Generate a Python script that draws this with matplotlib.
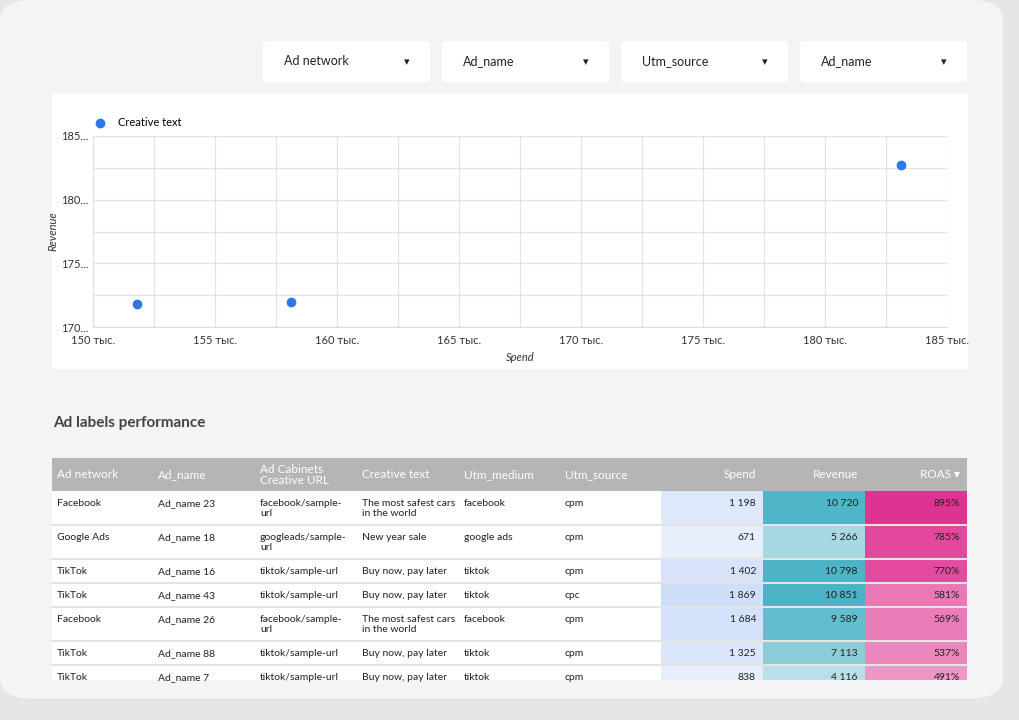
import matplotlib
matplotlib.use("Agg")
import matplotlib.pyplot as plt
from matplotlib.patches import FancyBboxPatch, Rectangle
from matplotlib.ticker import FuncFormatter, MultipleLocator

plt.rcParams['font.family'] = ['Lato', 'DejaVu Sans']

# scatter data (Spend in thousands, Revenue in thousands)
spend_k = [151.8, 158.1, 183.1]
revenue_k = [171.8, 172.0, 182.7]

filters = ["Ad network", "Ad_name", "Utm_source", "Ad_name"]

columns = ["Ad network", "Ad_name", "Ad Cabinets\nCreative URL", "Creative text",
           "Utm_medium", "Utm_source", "Spend", "Revenue", "ROAS ▾"]
networks = ["Facebook", "Google Ads", "TikTok", "TikTok", "Facebook", "TikTok", "TikTok"]
ad_names = ["Ad_name 23", "Ad_name 18", "Ad_name 16", "Ad_name 43", "Ad_name 26", "Ad_name 88", "Ad_name 7"]
urls = ["facebook/sample-\nurl", "googleads/sample-\nurl", "tiktok/sample-url", "tiktok/sample-url",
        "facebook/sample-\nurl", "tiktok/sample-url", "tiktok/sample-url"]
creative = ["The most safest cars\nin the world", "New year sale", "Buy now, pay later",
            "Buy now, pay later", "The most safest cars\nin the world", "Buy now, pay later",
            "Buy now, pay later"]
mediums = ["facebook", "google ads", "tiktok", "tiktok", "facebook", "tiktok", "tiktok"]
sources = ["cpm", "cpm", "cpm", "cpc", "cpm", "cpm", "cpm"]
spend = ["1 198", "671", "1 402", "1 869", "1 684", "1 325", "838"]
revenue = ["10 720", "5 266", "10 798", "10 851", "9 589", "7 113", "4 116"]
roas = ["895%", "785%", "770%", "581%", "569%", "537%", "491%"]

spend_col = ["#dde8fb", "#e8effc", "#d7e3fa", "#cedffa", "#d3e1fa", "#dde7fb", "#e6edfc"]
rev_col = ["#4fb5c8", "#a8d8e2", "#4db4c7", "#4ab3c6", "#62bdce", "#8dcdd9", "#b9e0e8"]
roas_col = ["#de3390", "#e3489c", "#e44b9e", "#e978b7", "#ea7cb9", "#ec87be", "#ee96c6"]

W, H = 1020, 720
fig = plt.figure(figsize=(W / 100, H / 100), dpi=100)
fig.patch.set_facecolor("#e6e6e9")

def px(x, y, w, h):
    # pixel box (top-left origin) -> figure coords
    return x / W, 1 - (y + h) / H, w / W, h / H

# background card
card = FancyBboxPatch((0, 0.03), 1003 / W, 0.97, boxstyle="round,pad=0,rounding_size=0.03",
                      transform=fig.transFigure, facecolor="#f4f4f6", edgecolor="none")
fig.patches.append(card)

# filter dropdowns
for i, name in enumerate(filters):
    x0 = 263 + i * 179
    l, b, w, h = px(x0, 41, 167, 41)
    fig.patches.append(FancyBboxPatch((l, b), w, h, boxstyle="round,pad=0,rounding_size=0.004",
                                      transform=fig.transFigure, facecolor="white", edgecolor="none"))
    fig.text((x0 + 21) / W, 1 - 65 / H, name, fontsize=9, color="#222222", va="baseline")
    fig.text((x0 + 144) / W, 1 - 65 / H, "▾", fontsize=8, color="#222222", va="baseline", ha="center",
             family="DejaVu Sans")

# chart panel
l, b, w, h = px(52, 94, 916, 275)
fig.patches.append(Rectangle((l, b), w, h, transform=fig.transFigure, facecolor="white", edgecolor="none"))

ax = fig.add_axes(px(93, 136, 854, 191))
ax.set_zorder(5)
ax.patch.set_alpha(0)
ax.scatter(spend_k, revenue_k, s=36, color="#2f76e5", zorder=3, label="Creative text")
ax.set_xlim(150, 185)
ax.set_ylim(170, 185)
ax.xaxis.set_major_locator(MultipleLocator(5))
ax.xaxis.set_minor_locator(MultipleLocator(2.5))
ax.yaxis.set_major_locator(MultipleLocator(5))
ax.yaxis.set_minor_locator(MultipleLocator(2.5))
ax.xaxis.set_major_formatter(FuncFormatter(lambda v, p: f"{v:.0f} тыс."))
ax.yaxis.set_major_formatter(FuncFormatter(lambda v, p: f"{v:.0f}..."))
ax.grid(True, which="both", color="#e3e3e3", lw=0.9)
ax.tick_params(which="both", length=0, labelsize=8, colors="#333333")
ax.tick_params(axis="x", pad=6)
for s in ax.spines.values():
    s.set_visible(False)
ax.spines["left"].set_visible(True)
ax.spines["bottom"].set_visible(True)
ax.spines["left"].set_color("#dddddd")
ax.spines["bottom"].set_color("#dddddd")
ax.set_xlabel("Spend", fontsize=8, style="italic", color="#333333", labelpad=4)
ax.set_ylabel("Revenue", fontsize=8, style="italic", color="#333333", labelpad=2)
ax.legend(loc="lower left", bbox_to_anchor=(-0.01, 1.02), frameon=False, fontsize=8,
          handletextpad=0.6, borderaxespad=0)

# table title
fig.text(53 / W, 1 - 423 / H, "Ad labels performance", fontsize=11, fontweight="bold",
         color="#444444", va="center")

# table
col_x = [57, 158, 260, 362, 464, 565]
num_cells = [(661, 763), (763, 865), (865, 967)]
l, b, w, h = px(52, 458, 915, 33)
fig.patches.append(Rectangle((l, b), w, h, transform=fig.transFigure, facecolor="#b5b5b5", edgecolor="none"))
for j, c in enumerate(columns):
    if j < 6:
        fig.text(col_x[j] / W, 1 - 475 / H, c, fontsize=8.5, color="white", va="center", linespacing=0.95)
    else:
        x1 = num_cells[j - 6][1] - 7
        fig.text(x1 / W, 1 - 475 / H, c, fontsize=8.5, color="white", va="center", ha="right",
                 family=["Lato", "DejaVu Sans"])

row_edges = [491, 525, 559, 583, 607, 641, 665, 689]
l, b, w, h = px(52, 491, 915, 189)
fig.patches.append(Rectangle((l, b), w, h, transform=fig.transFigure, facecolor="white", edgecolor="none"))
for i in range(len(networks)):
    top, bot = row_edges[i], min(row_edges[i + 1], 680)
    ty = 1 - (top + 15) / H
    for (x0, x1), col in zip(num_cells, [spend_col[i], rev_col[i], roas_col[i]]):
        l, b, w, h = px(x0, top, x1 - x0, bot - top)
        fig.patches.append(Rectangle((l, b), w, h, transform=fig.transFigure, facecolor=col, edgecolor="none"))
    vals = [networks[i], ad_names[i], urls[i], creative[i], mediums[i], sources[i]]
    for j, v in enumerate(vals):
        first, _, rest = v.partition("\n")
        fig.text(col_x[j] / W, ty, first, fontsize=7.5, color="#222222", va="baseline")
        if rest:
            fig.text(col_x[j] / W, ty - 10 / H, rest, fontsize=7.5, color="#222222", va="baseline")
    for (x0, x1), v in zip(num_cells, [spend[i], revenue[i], roas[i]]):
        fig.text((x1 - 7) / W, ty, v, fontsize=7.5, color="#222222", va="baseline", ha="right")
    if bot < 680:
        fig.add_artist(plt.Line2D([52 / W, 967 / W], [1 - bot / H] * 2, transform=fig.transFigure,
                                  color="#e4e4e4", lw=1.5))

# mask below table
l, b, w, h = px(40, 680, 930, 18)
fig.patches.append(Rectangle((l, b), w, h, transform=fig.transFigure, facecolor="#f4f4f6", edgecolor="none"))

fig.savefig("out.png", dpi=100, facecolor=fig.get_facecolor())
